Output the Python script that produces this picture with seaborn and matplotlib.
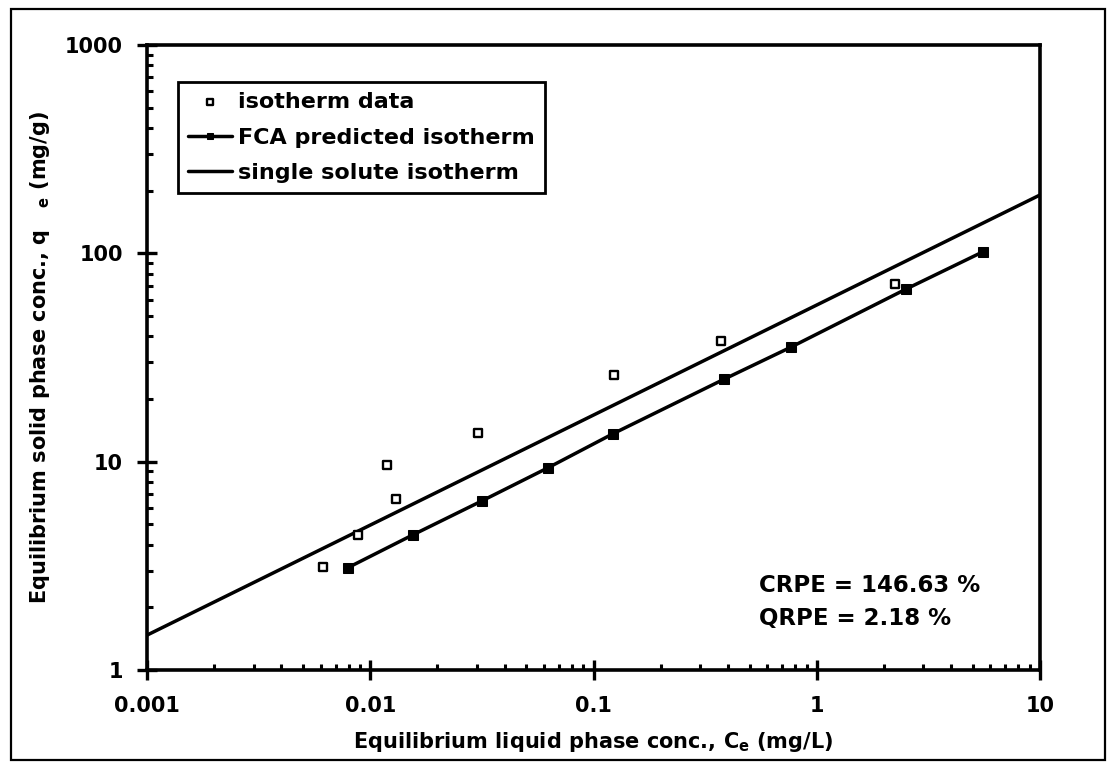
import matplotlib
matplotlib.use("Agg")
import matplotlib.pyplot as plt
import seaborn as sns
import numpy as np
import pandas as pd
from matplotlib.patches import Rectangle
from matplotlib.ticker import LogLocator, FixedLocator, NullFormatter

# ---- data ----
iso_x = [0.00614, 0.00879, 0.0119, 0.0130, 0.0303, 0.123, 0.372, 2.24]
iso_y = [3.11, 4.45, 9.6, 6.62, 13.7, 26.1, 38.0, 71.3]

fca_x = [0.00795, 0.0155, 0.0318, 0.0627, 0.122, 0.385, 0.764, 2.50, 5.57]
fca_y = [3.10, 4.45, 6.5, 9.36, 13.6, 24.9, 35.4, 67.2, 101.9]

single_x = [0.001, 10]
single_y = [1.47, 190.6]

x_ticks = [0.001, 0.01, 0.1, 1, 10]
x_ticklabels = ["0.001", "0.01", "0.1", "1", "10"]
y_ticks = [1, 10, 100, 1000]
y_ticklabels = ["1", "10", "100", "1000"]

annot_lines = ["CRPE = 146.63 %", "QRPE = 2.18 %"]

sns.set_style("white")
plt.rcParams['font.family'] = ['DejaVu Sans']
plt.rcParams['font.weight'] = 'bold'
plt.rcParams['text.color'] = 'black'
plt.rcParams['axes.labelcolor'] = 'black'
plt.rcParams['xtick.color'] = 'black'
plt.rcParams['ytick.color'] = 'black'
plt.rcParams['mathtext.fontset'] = 'custom'
plt.rcParams['mathtext.rm'] = 'DejaVu Sans:bold'
plt.rcParams['mathtext.it'] = 'DejaVu Sans:bold'
plt.rcParams['mathtext.bf'] = 'DejaVu Sans:bold'

W, H = 1111, 763
fig = plt.figure(figsize=(W / 100, H / 100), dpi=100)
ax = fig.add_axes([147 / W, 1 - 670 / H, (1040 - 147) / W, (670 - 45) / H])

single_df = pd.DataFrame({"x": single_x, "y": single_y})
fca_df = pd.DataFrame({"x": fca_x, "y": fca_y})
iso_df = pd.DataFrame({"x": iso_x, "y": iso_y})

ax.set_xscale("log")
ax.set_yscale("log")

sns.lineplot(data=single_df, x="x", y="y", ax=ax, color="black", lw=2.5,
             label="single solute isotherm", sort=False)
sns.lineplot(data=fca_df, x="x", y="y", ax=ax, color="black", lw=2.5,
             marker="s", markersize=7.5, markeredgecolor="black",
             markerfacecolor="black", label="FCA predicted isotherm", sort=False)
sns.scatterplot(data=iso_df, x="x", y="y", ax=ax, marker="s", s=40,
                facecolor="white", edgecolor="black", linewidth=1.7,
                label="isotherm data", zorder=5)

ax.set_xlim(0.001, 10)
ax.set_ylim(1, 1000)

for s in ax.spines.values():
    s.set_linewidth(2.6)
    s.set_color("black")

ax.xaxis.set_major_locator(FixedLocator(x_ticks))
ax.set_xticklabels(x_ticklabels)
ax.yaxis.set_major_locator(FixedLocator(y_ticks))
ax.set_yticklabels(y_ticklabels)
ax.xaxis.set_minor_locator(LogLocator(base=10, subs=np.arange(2, 10)))
ax.yaxis.set_minor_locator(LogLocator(base=10, subs=np.arange(2, 10)))
ax.xaxis.set_minor_formatter(NullFormatter())
ax.yaxis.set_minor_formatter(NullFormatter())

ax.tick_params(which="major", direction="inout", length=15, width=2.4,
               labelsize=15, colors="black", top=False, right=False,
               bottom=True, left=True)
ax.tick_params(axis="x", which="major", pad=11)
ax.tick_params(axis="y", which="major", pad=10)
ax.tick_params(which="minor", direction="in", length=4.5, width=2.2,
               top=False, right=False, bottom=True, left=True, colors="black")
for lab in ax.get_xticklabels() + ax.get_yticklabels():
    lab.set_fontweight("bold")

ax.set_xlabel(r"Equilibrium liquid phase conc., C$_{\mathrm{e}}$ (mg/L)",
              fontsize=15, fontweight="bold", labelpad=10, color="black")
ax.set_ylabel(r"Equilibrium solid phase conc., q   $_{\mathrm{e}}$ (mg/g)",
              fontsize=15, fontweight="bold", labelpad=9, color="black")

# legend in the reference order
handles, labels = ax.get_legend_handles_labels()
order = ["isotherm data", "FCA predicted isotherm", "single solute isotherm"]
hmap = dict(zip(labels, handles))
leg = ax.legend([hmap[o] for o in order], order, loc="upper left",
                bbox_to_anchor=((178 - 147) / 893, (670 - 82) / 625),
                borderaxespad=0, frameon=True, fancybox=False, framealpha=1,
                edgecolor="black", handlelength=2.0,
                handletextpad=0.25, borderpad=0.45, labelspacing=0.7,
                markerscale=0.6, prop={"weight": "bold", "size": 16})
leg.get_frame().set_linewidth(2.0)
for t in leg.get_texts():
    t.set_color("black")

for i, t in enumerate(annot_lines):
    ax.text((759 - 147) / 893, (670 - (586 + 32 * i)) / 625, t,
            transform=ax.transAxes, fontsize=16.5, fontweight="bold",
            ha="left", va="center", color="black")

fig.patches.append(Rectangle((11 / W, 1 - 760 / H), (1105 - 11) / W, (760 - 9) / H,
                             transform=fig.transFigure, fill=False,
                             edgecolor="black", linewidth=1.6))

fig.savefig("out.png", dpi=100)
